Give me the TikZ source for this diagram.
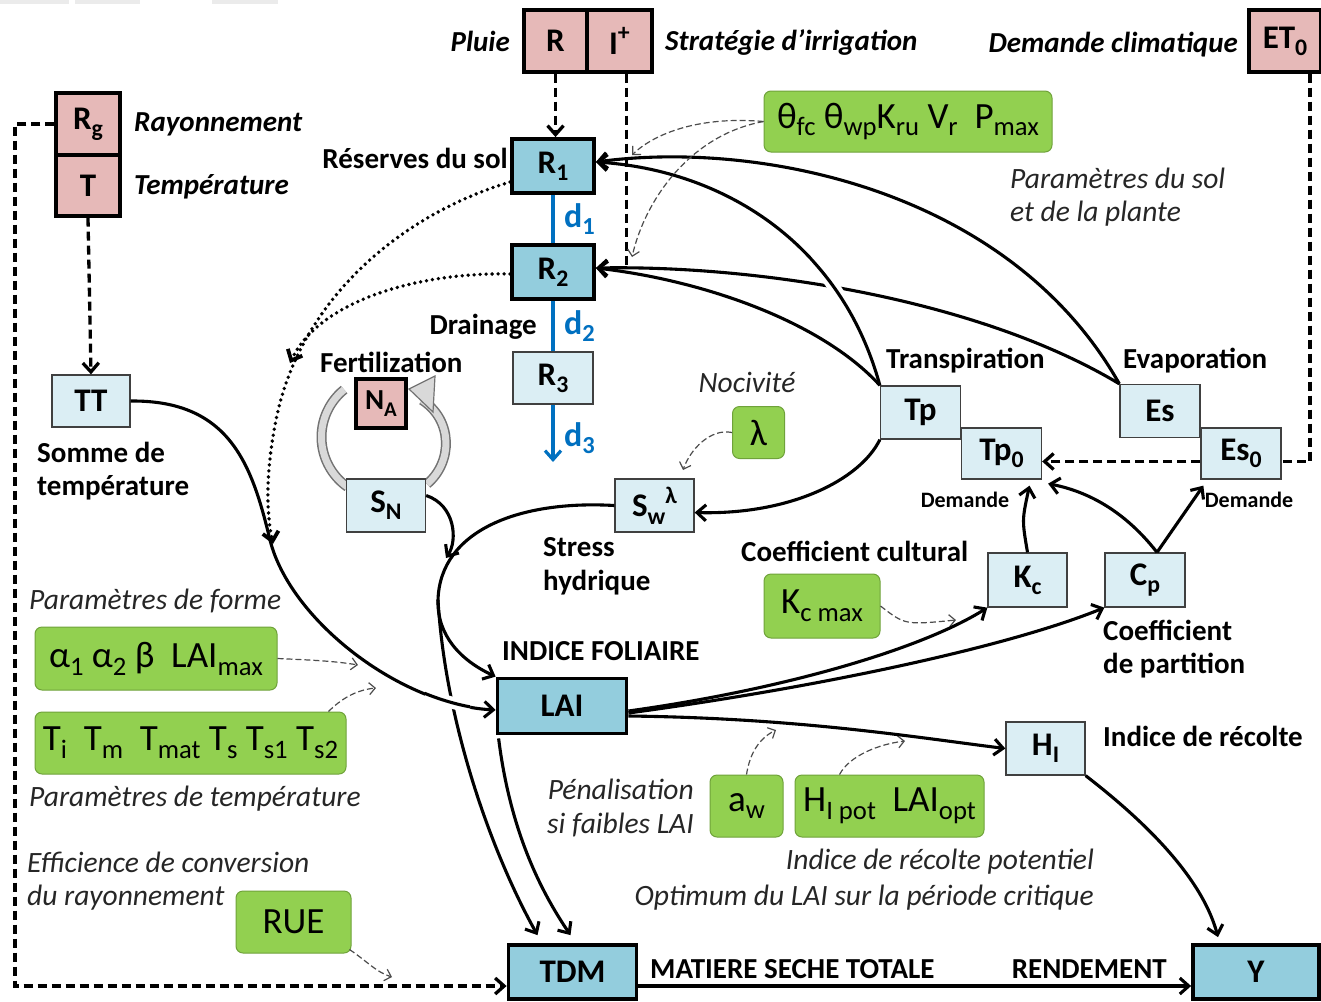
\documentclass[tikz,border=0pt]{standalone}
\usepackage{fontspec}
\setmainfont{Carlito}
\usetikzlibrary{arrows.meta,calc}
\definecolor{pinkc}{HTML}{E6B9B8}
\definecolor{midblue}{HTML}{93CDDD}
\definecolor{lightblue}{HTML}{DBEEF4}
\definecolor{greenc}{HTML}{92D050}
\definecolor{greenb}{HTML}{6FA23A}
\definecolor{bluec}{HTML}{0070C0}
\newcommand\dn[1]{\raisebox{-0.45ex}{\scalebox{0.72}{#1}}}
\newcommand\upx[1]{\raisebox{0.85ex}{\scalebox{0.72}{#1}}}
\begin{document}
\begin{tikzpicture}[x=1pt,y=-1pt,
  boxfont/.style={font=\fontsize{33}{36}\selectfont\bfseries},
  pinkbox/.style={draw, line width=3.2pt, fill=pinkc, boxfont, inner sep=0pt},
  midbox/.style={draw, line width=3.8pt, fill=midblue, boxfont, inner sep=0pt},
  lightbox/.style={draw=black!75, line width=1.3pt, fill=lightblue, boxfont, inner sep=0pt},
  greenbox/.style={draw=greenb, line width=1pt, fill=greenc, rounded corners=7pt, font=\fontsize{37}{40}\selectfont, inner sep=0pt},
  lbl/.style={font=\fontsize{29}{33}\selectfont\bfseries, inner sep=0pt},
  lbli/.style={font=\fontsize{29}{33}\selectfont\bfseries\itshape, inner sep=0pt},
  note/.style={font=\fontsize{29.5}{33}\selectfont\itshape, text=black!85, inner sep=0pt},
  small/.style={font=\fontsize{22}{24}\selectfont\bfseries, inner sep=0pt},
  dlbl/.style={font=\fontsize{34}{36}\selectfont\bfseries, text=bluec, inner sep=0pt},
  tip/.style={-{Straight Barb[length=9pt,width=16pt]}},
  plain/.style={line width=3.1pt},
  conn/.style={line width=3.1pt, tip},
  bigdash/.style={line width=3.3pt, dash pattern=on 9pt off 5pt},
  dots/.style={line width=3.8pt, line cap=round, dash pattern=on 0pt off 6pt},
  thinarrow/.style={draw=black!70, line width=1.2pt, dash pattern=on 6pt off 3pt, -{Straight Barb[length=6pt,width=12pt]}},
  bluel/.style={draw=bluec, line width=3.2pt}
]
\useasboundingbox (0,0) rectangle (1321,1001);
\fill[white] (0,0) rectangle (1321,1001);
\fill[black!8] (0,0) rectangle (69,4);
\fill[black!8] (75,0) rectangle (140,4);
\fill[black!8] (212,0) rectangle (278,4);

% ---- nodes ----
\node[pinkbox, minimum width=63pt, minimum height=62pt] (R) at (555.5,41) {R};
\node[pinkbox, minimum width=65pt, minimum height=62pt] (I) at (619.5,41) {I\upx{+}};
\node[pinkbox, minimum width=72pt, minimum height=62pt] (ET) at (1285,41) {ET\dn{0}};
\node[pinkbox, minimum width=64pt, minimum height=62pt] (Rg) at (88,124) {R\dn{g}};
\node[pinkbox, minimum width=64pt, minimum height=61pt] (T) at (88,185.5) {T};

\node[midbox, minimum width=82pt, minimum height=54pt] (R1) at (553,166) {R\dn{1}};
\node[midbox, minimum width=82pt, minimum height=54pt] (R2) at (553,272) {R\dn{2}};
\node[lightbox, minimum width=80pt, minimum height=52pt] (R3) at (553,378) {R\dn{3}};

\node[lightbox, minimum width=78pt, minimum height=52pt] (TT) at (91,401) {TT};
\node[lightbox, minimum width=80pt, minimum height=53pt] (Tp) at (920.5,412.5) {Tp};
\node[lightbox, minimum width=80pt, minimum height=51pt] (Tp0) at (1001.5,453.5) {Tp\dn{0}};
\node[lightbox, minimum width=80pt, minimum height=53pt] (Es) at (1160,411) {Es};
\node[lightbox, minimum width=80pt, minimum height=51pt] (Es0) at (1241,453.5) {Es\dn{0}};
\node[lightbox, minimum width=79pt, minimum height=53pt] (Sw) at (654.5,505.5) {S\dn{w}\upx{λ}};
\node[lightbox, minimum width=79pt, minimum height=54pt] (Kc) at (1027.5,580) {K\dn{c}};
\node[lightbox, minimum width=80pt, minimum height=54pt] (Cp) at (1145,580) {C\dn{p}};
\node[lightbox, minimum width=79pt, minimum height=53pt] (HI) at (1045.5,748.5) {H\dn{I}};

\node[midbox, minimum width=129pt, minimum height=55pt] (LAI) at (562,706) {LAI};
\node[midbox, minimum width=128pt, minimum height=54pt] (TDM) at (572.5,972) {TDM};
\node[midbox, minimum width=126pt, minimum height=54pt] (Y) at (1256,972) {Y};

\node[greenbox, minimum width=288pt, minimum height=61pt] (theta) at (908,121.5) {θ\dn{fc} θ\dn{wp}K\dn{ru} V\dn{r}~ P\dn{max}};
\node[greenbox, minimum width=52pt, minimum height=52pt] (lam) at (758.5,432.5) {λ};
\node[greenbox, minimum width=116pt, minimum height=64pt] (Kcmax) at (822,606) {K\dn{c max}};
\node[greenbox, minimum width=242pt, minimum height=63pt] (alpha) at (156,658.5) {α\dn{1} α\dn{2} β~ LAI\dn{max}};
\node[greenbox, minimum width=311pt, minimum height=62pt] (Tpar) at (190.5,743) {T\dn{i}~ T\dn{m}~ T\dn{mat} T\dn{s} T\dn{s1} T\dn{s2}};
\node[greenbox, minimum width=115pt, minimum height=62pt] (RUE) at (293.5,922) {RUE};
\node[greenbox, minimum width=73pt, minimum height=62pt] (aw) at (746.5,806) {a\dn{w}};
\node[greenbox, minimum width=189pt, minimum height=62pt] (HIpot) at (889.5,806) {H\dn{I pot}~ LAI\dn{opt}};

% ---- labels ----
\node[lbli, anchor=east] (lPluie) at (510,41) {Pluie};
\node[lbli, anchor=west] (lStrat) at (665,42) {Stratégie d’irrigation};
\node[lbli, anchor=east] (lDem) at (1238,45) {Demande climatique};
\node[lbli, anchor=west] (lRay) at (134,124) {Rayonnement};
\node[lbli, anchor=west] (lTemp) at (134,187) {Température};
\node[lbl, anchor=east] (lRes) at (508,158) {Réserves du sol};
\node[dlbl, anchor=west] (ld1) at (564,219) {d\dn{1}};
\node[dlbl, anchor=west] (ld2) at (564,326) {d\dn{2}};
\node[dlbl, anchor=west] (ld3) at (564,438) {d\dn{3}};
\node[lbl, anchor=east] (lDrain) at (537,327) {Drainage};
\node[lbl, anchor=west] (lFert) at (320,362) {Fertilization};
\node[lbl, anchor=west] (lSom1) at (37,452) {Somme de};
\node[lbl, anchor=west] (lSom2) at (37,488) {température};
\node[note, anchor=center] (lNoc) at (747,382) {Nocivité};
\node[lbl, anchor=west] (lTransp) at (886,361) {Transpiration};
\node[lbl, anchor=west] (lEvap) at (1123,361) {Evaporation};
\node[small, anchor=center] (lDemA) at (965,500) {Demande};
\node[small, anchor=center] (lDemB) at (1249,500) {Demande};
\node[lbl, anchor=west] (lStress1) at (543,547) {Stress};
\node[lbl, anchor=west] (lStress2) at (543,583) {hydrique};
\node[lbl, anchor=west] (lCult) at (741,551) {Coefficient cultural};
\node[lbl, anchor=west] (lPart1) at (1103,630) {Coefficient};
\node[lbl, anchor=west] (lPart2) at (1103,666) {de partition};
\node[lbl, anchor=west] (lIndF) at (502,651) {INDICE FOLIAIRE};
\node[lbl, anchor=west] (lRec) at (1103,736) {Indice de récolte};
\node[lbl, anchor=west] (lMat) at (650,969) {MATIERE SECHE TOTALE};
\node[lbl, anchor=east] (lRend) at (1167,969) {RENDEMENT};
\node[note, anchor=east] (lPen1) at (694,789) {Pénalisation};
\node[note, anchor=east] (lPen2) at (694,825) {si faibles LAI};
\node[note, anchor=east] (lPot1) at (1094,862) {Indice de récolte potentiel};
\node[note, anchor=east] (lPot2) at (1094,898) {Optimum du LAI sur la période critique};
\node[note, anchor=west] (lSol1) at (1010,178) {Paramètres du sol};
\node[note, anchor=west] (lSol2) at (1010,214) {et de la plante};
\node[note, anchor=west] (lForme) at (29,601) {Paramètres de forme};
\node[note, anchor=west] (lTpar) at (29,799) {Paramètres de température};
\node[note, anchor=west] (lEff1) at (27,862) {Efficience de conversion};
\node[note, anchor=west] (lEff2) at (27,898) {du rayonnement};

% ---- free coordinates ----
\coordinate (d3end) at (553,462);
\coordinate (t1) at (632,155);
\coordinate (t2) at (632,257);
\coordinate (lamend) at (683,470);
\coordinate (kcend) at (956,620);
\coordinate (alend) at (358,665);
\coordinate (tpend) at (376,688);
\coordinate (rueend) at (392,977);
\coordinate (awend) at (776,730);
\coordinate (hiend) at (905,741);
\coordinate (split) at (438,600);
\coordinate (snend) at (446,558);
\coordinate (dotA) at (273,544);
\coordinate (dotB) at (290,363);

% ---- thick dashed climate inputs ----
\draw[bigdash, tip] (R.south) -- (R.south |- R1.north);
\draw[bigdash] ([xshift=7pt]I.south) -- ([xshift=7pt]I.south |- 0,268);
\draw[bigdash, tip] (T.south) -- (TT.north);
\draw[bigdash, tip] (Rg.west) -| (15,986) -- ([yshift=-14pt]TDM.west);
\draw[bigdash] ([xshift=25pt]ET.south) |- ([yshift=-8pt]Es0.east);
\draw[bigdash, tip] ([yshift=-8pt]Es0.west) -- ([yshift=-8pt]Tp0.east);

% ---- drainage ----
\draw[bluel] (R1.south) -- (R2.north);
\draw[bluel] (R2.south) -- (R3.north);
\draw[bluel, tip] (R3.south) -- (d3end);

% ---- water uptake curves ----
\draw[conn] (Es.north west) .. controls (1010,190) and (760,140) .. ([yshift=4pt]R1.east);
\draw[conn] (Tp.north west) .. controls (840,240) and (720,170) .. ([yshift=4pt]R1.east);
\draw[conn] (Es.north west) .. controls (980,300) and (760,265) .. ([yshift=4pt]R2.east);
\draw[conn] (Tp.north west) .. controls (820,320) and (700,280) .. ([yshift=4pt]R2.east);
\begin{scope}
\clip (812,258) rectangle (856,305);
\draw[white, line width=12pt] (Tp.north west) .. controls (840,240) and (720,170) .. ([yshift=4pt]R1.east);
\draw[plain] (Tp.north west) .. controls (840,240) and (720,170) .. ([yshift=4pt]R1.east);
\end{scope}

% ---- dotted N uptake ----
\draw[dots, tip] ([yshift=-16pt]R1.west) .. controls (400,215) and (300,300) .. (276,420) .. controls (266,470) and (266,510) .. (dotA);
\draw[dots, tip] ([yshift=-2pt]R2.west) .. controls (420,272) and (320,300) .. (dotB);

% ---- thin dashed parameter arrows ----
\draw[thinarrow] (theta.west) .. controls (700,116) and (655,133) .. (t1);
\draw[thinarrow] (theta.west) .. controls (690,135) and (645,200) .. (t2);
\draw[thinarrow] (lam.west) .. controls (710,428) and (690,450) .. (lamend);
\draw[thinarrow] (Kcmax.east) .. controls (905,625) .. (kcend);
\draw[thinarrow] (alpha.east) .. controls (310,660) and (335,661) .. (alend);
\draw[thinarrow] ([xshift=-18pt]Tpar.north east) .. controls (340,700) and (355,690) .. (tpend);
\draw[thinarrow] ([xshift=-2pt,yshift=4pt]RUE.south east) .. controls (368,962) and (376,972) .. (rueend);
\draw[thinarrow] (aw.north) .. controls (750,752) and (760,738) .. (awend);
\draw[thinarrow] ([xshift=-50pt]HIpot.north) .. controls (850,755) and (880,744) .. (hiend);

% ---- fertilization cycle ----
\draw[black!55, line width=10pt] ([shift={(382.5,437)}]231:61) arc[start angle=231, end angle=125, radius=61];
\draw[black!15, line width=7pt] ([shift={(382.5,437)}]231:61) arc[start angle=231, end angle=125, radius=61];
\draw[black!55, line width=10pt] (427,484) .. controls (453,462) and (453,420) .. (422,400);
\draw[black!15, line width=7pt] (427,484) .. controls (453,462) and (453,420) .. (422,400);
\filldraw[fill=black!15, draw=black!55, line width=1.2pt, line join=miter] (435,376) -- (409,389) -- (433,412) -- cycle;
\node[pinkbox, minimum width=50pt, minimum height=49pt, font=\fontsize{29}{32}\selectfont\bfseries] (NA) at (381,403.5) {N\dn{A}};
\node[lightbox, minimum width=79pt, minimum height=53pt] (SN) at (386,505.5) {S\dn{N}};

% ---- stress and growth ----
\draw[conn] (Tp.south west) .. controls (860,480) and (790,515) .. ([yshift=-7pt]Sw.east);
\draw[conn] (Sw.west) .. controls (520,500) and (440,530) .. (split) .. controls (437,635) and (460,660) .. (LAI.north west);
\draw[conn] ([yshift=10pt]SN.east) .. controls (455,505) and (458,540) .. (snend);
\draw[conn] (split) .. controls (445,720) and (490,850) .. ($(TDM.north)+(-35,-8)$);
\draw[conn] ($(LAI.south west)+(3,3)$) .. controls (510,830) and (540,890) .. ($(TDM.north)+(-2,-8)$);
\draw[conn] (TT.east) .. controls (230,400) and (252,465) .. (270,540) .. controls (290,620) and (400,705) .. ([yshift=-4pt]LAI.west);
\begin{scope}
\clip (425,682) rectangle (470,724);
\draw[white, line width=12pt] (TT.east) .. controls (230,400) and (252,465) .. (270,540) .. controls (290,620) and (400,705) .. ([yshift=-4pt]LAI.west);
\draw[plain] (TT.east) .. controls (230,400) and (252,465) .. (270,540) .. controls (290,620) and (400,705) .. ([yshift=-4pt]LAI.west);
\end{scope}

% ---- LAI outputs ----
\draw[conn] ([yshift=-5pt]LAI.east) .. controls (780,690) and (920,650) .. (Kc.south west);
\draw[conn] ([yshift=-7pt]LAI.east) .. controls (800,690) and (1000,650) .. (Cp.south west);
\draw[conn] ([yshift=-10pt]LAI.east) .. controls (800,718) and (920,738) .. (HI.west);
\draw[conn] (HI.south east) .. controls (1130,810) and (1200,870) .. ($(Y.north)+(-38,-6)$);
\draw[conn] ([yshift=-14pt]TDM.east) -- ([yshift=-14pt]Y.west);

% ---- demand ----
\draw[conn] (Kc.north) .. controls (1022,520) .. ($(Tp0.south)+(28,6)$);
\draw[conn] ([xshift=12pt]Cp.north) .. controls (1120,505) and (1080,490) .. ($(Tp0.south east)+(6,4)$);
\draw[conn] ([xshift=12pt]Cp.north) -- ($(Es0.south west)+(3,6)$);
\end{tikzpicture}
\end{document}
